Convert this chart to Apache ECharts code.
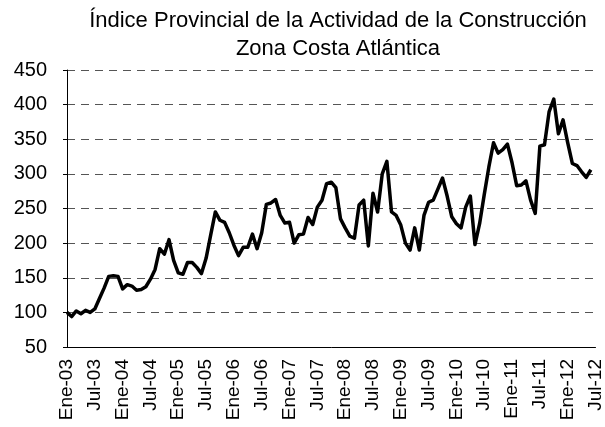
<!DOCTYPE html>
<html>
<head>
<meta charset="utf-8">
<script src="https://cdn.jsdelivr.net/npm/echarts@6/dist/echarts.min.js"></script>
<style>
  html, body { margin: 0; padding: 0; background: #ffffff; }
  #chart { width: 605px; height: 427px; }
</style>
</head>
<body>
<div id="chart"></div>
<script>
// Monthly categories Ene-03 .. Jul-12
const monthNames = ["Ene", "Feb", "Mar", "Abr", "May", "Jun", "Jul", "Ago", "Sep", "Oct", "Nov", "Dic"];
const years = ["03", "04", "05", "06", "07", "08", "09", "10", "11", "12"];
const categories = [];
for (const y of years) {
  for (const m of monthNames) {
    categories.push(m + "-" + y);
    if (y === "12" && m === "Jul") break;
  }
}

// Index values (Ene-03 onward)
const values2003 = [100, 94, 102, 98, 103, 100, 105, 120, 135, 152, 153, 152];
const values2004 = [134, 140, 138, 132, 133, 137, 148, 162, 192, 184, 205, 175];
const values2005 = [157, 155, 172, 172, 165, 156, 178, 212, 245, 233, 230, 215];
const values2006 = [197, 182, 194, 194, 213, 192, 215, 256, 258, 263, 240, 229];
const values2007 = [230, 200, 212, 213, 237, 227, 252, 262, 286, 288, 280, 235];
const values2008 = [222, 210, 207, 255, 262, 196, 272, 245, 300, 318, 245, 240];
const values2009 = [226, 200, 190, 222, 190, 240, 259, 262, 278, 294, 268, 238];
const values2010 = [228, 222, 252, 268, 198, 228, 270, 310, 345, 330, 335, 343];
const values2011 = [316, 283, 284, 290, 262, 243, 340, 342, 390, 408, 358, 378];
const values2012 = [345, 315, 312, 303, 295, 306, null];

const seriesValues = [].concat(values2003, values2004, values2005, values2006, values2007,
  values2008, values2009, values2010, values2011, values2012);

const yTicks = { min: 50, max: 450, interval: 50 };
const titleLines = ["Índice Provincial de la Actividad de la Construcción", "Zona Costa Atlántica"];

const chart = echarts.init(document.getElementById("chart"), null, { renderer: "canvas" });
const FONT = "Liberation Sans, Arial, sans-serif";

chart.setOption({
  animation: false,
  backgroundColor: "#ffffff",
  title: {
    text: titleLines.join("\n"),
    left: 333,
    top: 2,
    textAlign: "center",
    textStyle: {
      fontFamily: FONT,
      fontSize: 22,
      fontWeight: "normal",
      color: "#000000",
      lineHeight: 28
    }
  },
  grid: { left: 67, right: 9, top: 70, bottom: 80, containLabel: false },
  xAxis: {
    type: "category",
    data: categories,
    boundaryGap: false,
    axisLine: { show: true, lineStyle: { color: "#000000", width: 1 } },
    axisTick: { show: false },
    axisLabel: {
      interval: 5,
      rotate: 90,
      margin: 12,
      fontFamily: FONT,
      fontSize: 19,
      color: "#000000"
    },
    splitLine: { show: false }
  },
  yAxis: {
    type: "value",
    min: yTicks.min,
    max: yTicks.max,
    interval: yTicks.interval,
    axisLine: { show: true, lineStyle: { color: "#000000", width: 1 } },
    axisTick: { show: true, length: 4, lineStyle: { color: "#000000" } },
    axisLabel: {
      margin: 20,
      fontFamily: FONT,
      fontSize: 20,
      color: "#000000"
    },
    splitLine: {
      show: true,
      lineStyle: { color: "#555555", width: 1, type: [8, 6] }
    }
  },
  series: [{
    type: "line",
    data: seriesValues,
    showSymbol: false,
    symbol: "none",
    connectNulls: false,
    lineStyle: { color: "#000000", width: 3.5, join: "round" },
    z: 5
  }]
});
</script>
</body>
</html>
